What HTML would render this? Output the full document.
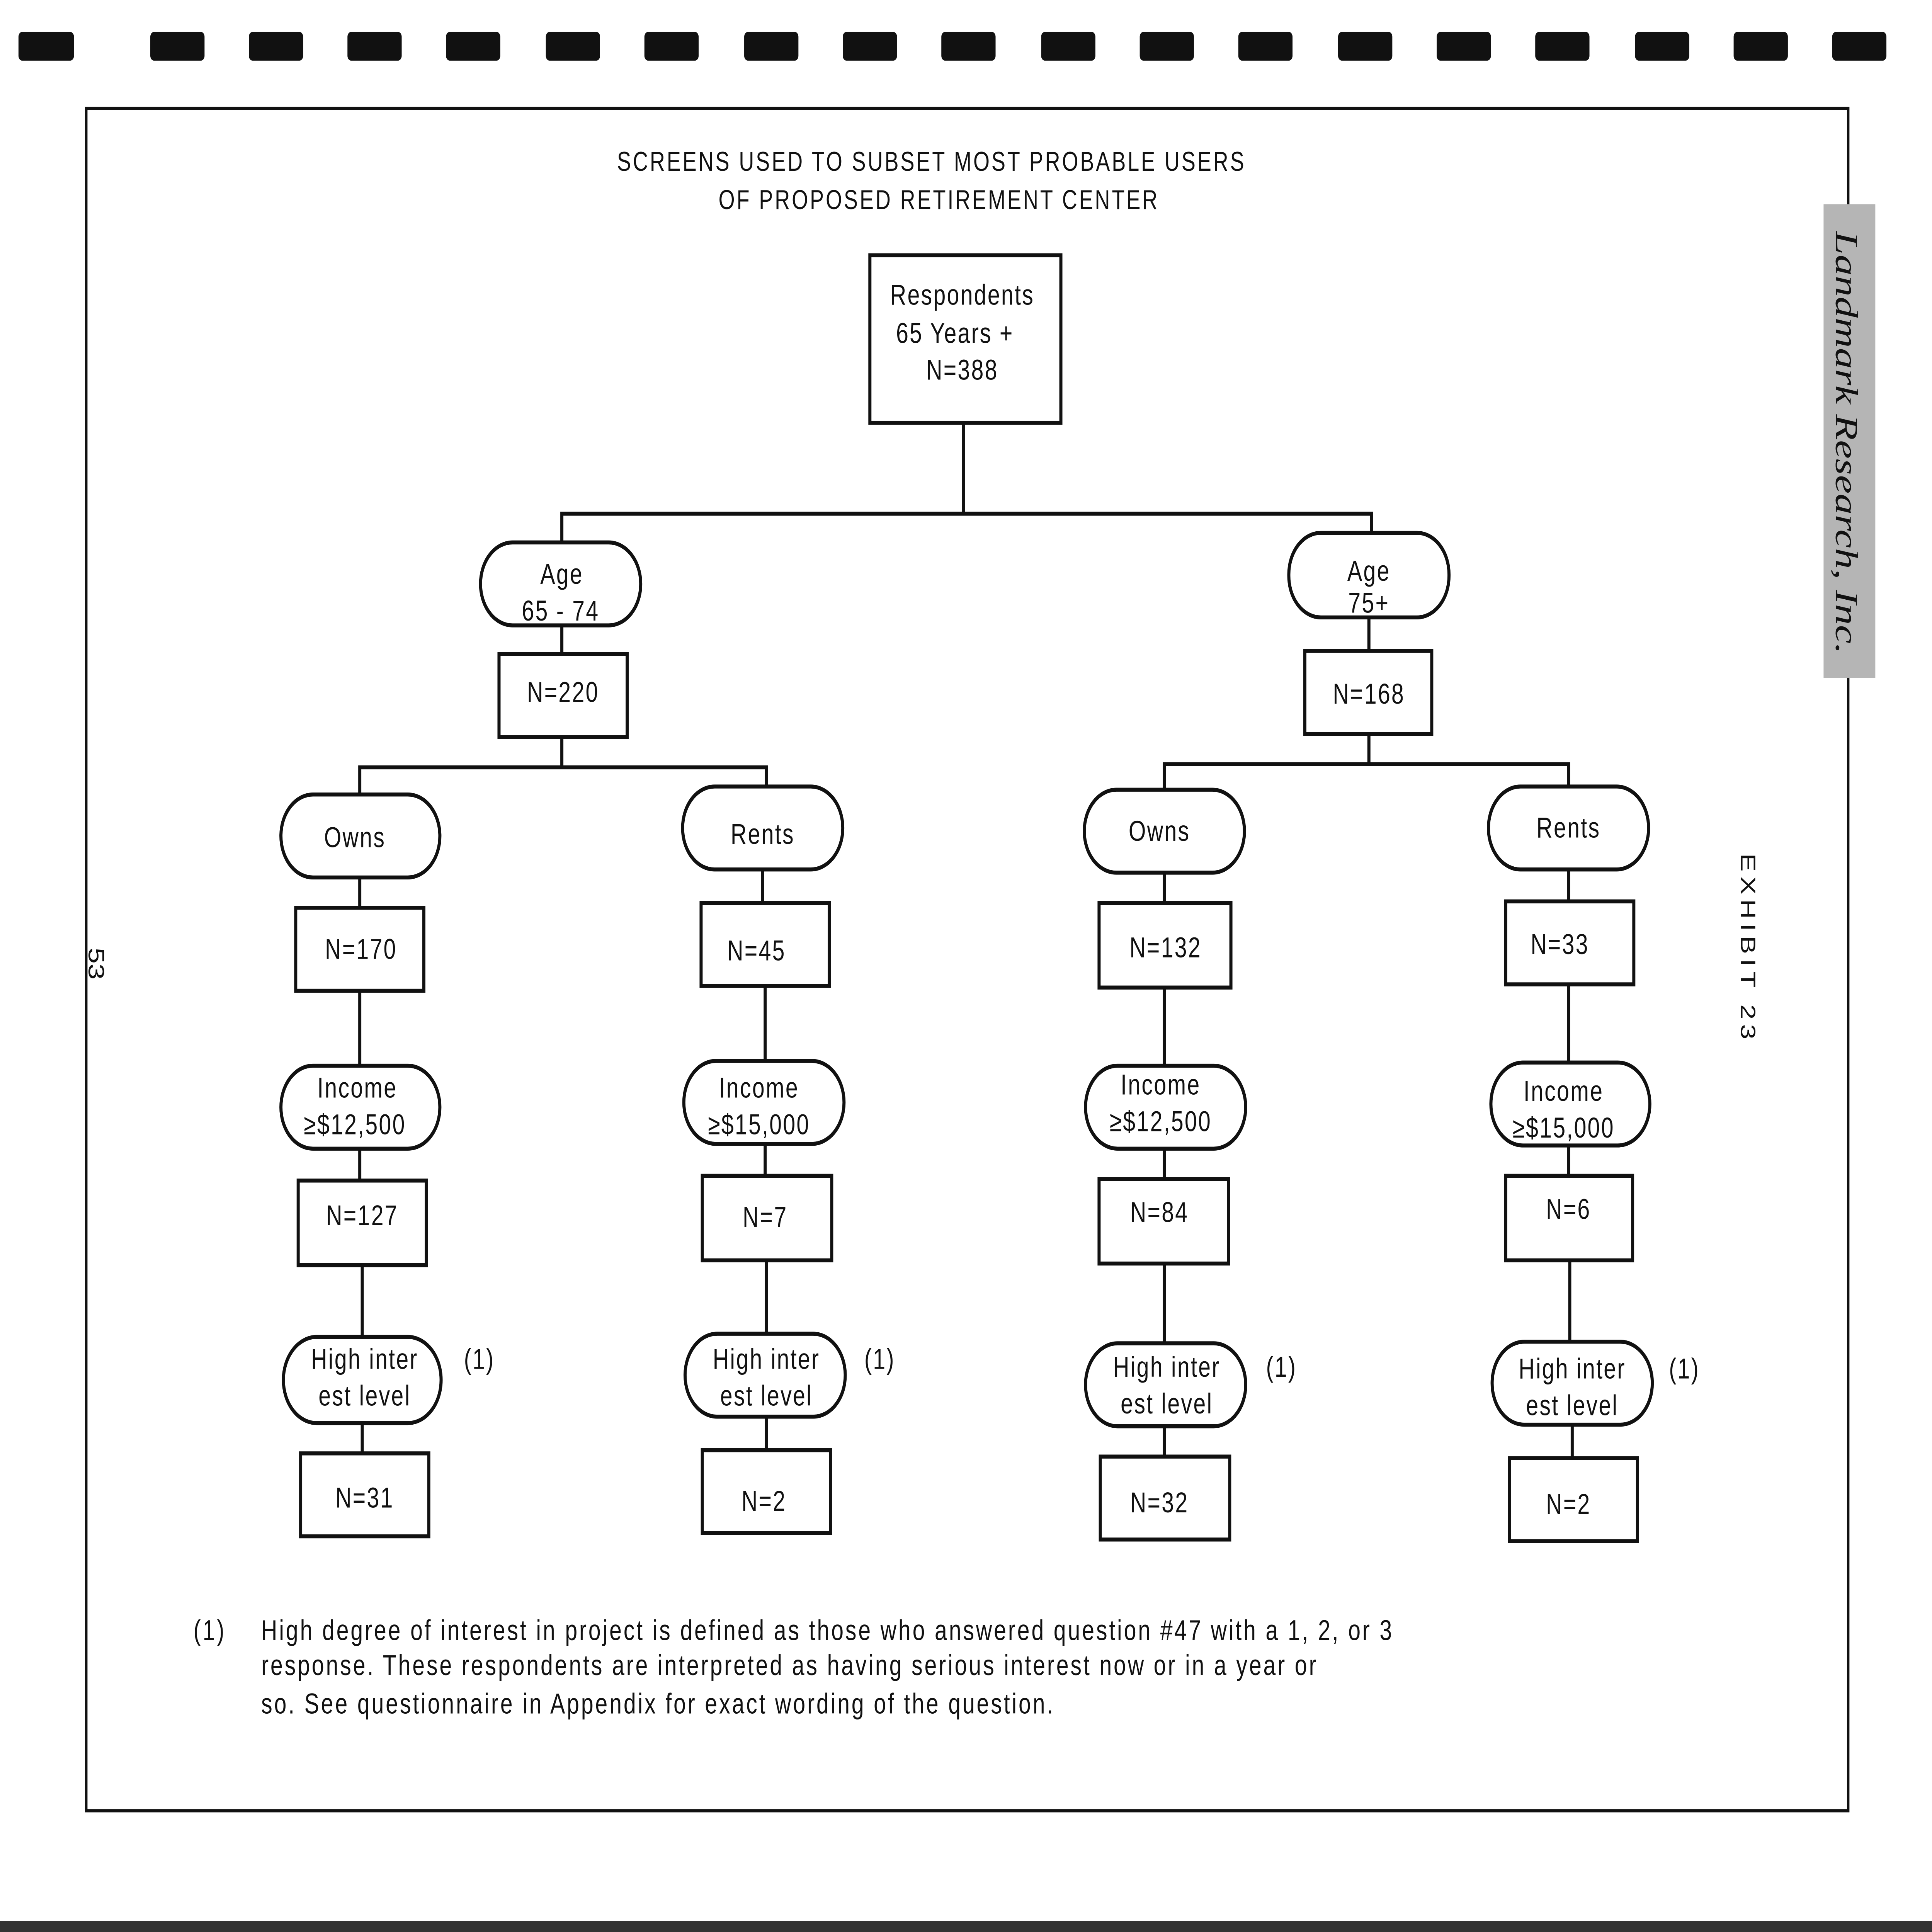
<!DOCTYPE html>
<html><head><meta charset="utf-8"><style>
html,body{margin:0;padding:0;background:#fff;width:100%;height:100%;overflow:hidden;}
svg{display:block;width:100vw;height:100vh;}
text{font-family:"Liberation Sans",sans-serif;fill:#111;}
</style></head><body>
<svg viewBox="0 0 1568 1211" preserveAspectRatio="none" xmlns="http://www.w3.org/2000/svg">
<rect width="1568" height="1211" fill="#fff"/>
<g fill="#111">
<rect x="15" y="20" width="45" height="18" rx="3"/><rect x="122" y="20" width="44" height="18" rx="3"/>
<rect x="202" y="20" width="44" height="18" rx="3"/><rect x="282" y="20" width="44" height="18" rx="3"/>
<rect x="362" y="20" width="44" height="18" rx="3"/><rect x="443" y="20" width="44" height="18" rx="3"/>
<rect x="523" y="20" width="44" height="18" rx="3"/><rect x="604" y="20" width="44" height="18" rx="3"/>
<rect x="684" y="20" width="44" height="18" rx="3"/><rect x="764" y="20" width="44" height="18" rx="3"/>
<rect x="845" y="20" width="44" height="18" rx="3"/><rect x="925" y="20" width="44" height="18" rx="3"/>
<rect x="1005" y="20" width="44" height="18" rx="3"/><rect x="1086" y="20" width="44" height="18" rx="3"/>
<rect x="1166" y="20" width="44" height="18" rx="3"/><rect x="1246" y="20" width="44" height="18" rx="3"/>
<rect x="1327" y="20" width="44" height="18" rx="3"/><rect x="1407" y="20" width="44" height="18" rx="3"/>
<rect x="1487" y="20" width="44" height="18" rx="3"/>
<rect x="0" y="1204" width="1568" height="7" fill="#333"/>
</g>
<g fill="none" stroke="#111" stroke-width="2">
<path d="M1500 128 V68 H70 V1135 H1500 V425"/>
</g>
<rect x="1480" y="128" width="42" height="297" fill="#b5b5b5"/>
<text transform="translate(1490,145) rotate(90)" font-style="italic" font-size="26" textLength="265" lengthAdjust="spacingAndGlyphs" style="font-family:'Liberation Serif',serif">Landmark Research, Inc.</text>
<text transform="translate(72,594) rotate(90)" font-size="18">53</text>
<text transform="translate(1413,535) rotate(90)" font-size="17" letter-spacing="3">EXHIBIT 23</text>
<text x="756" y="107" font-size="17" text-anchor="middle" letter-spacing="1.5">SCREENS USED TO SUBSET MOST PROBABLE USERS</text>
<text x="762" y="131" font-size="17" text-anchor="middle" letter-spacing="1.5">OF PROPOSED RETIREMENT CENTER</text>
<g fill="none" stroke="#111" stroke-width="2.5">
<path d="M782 265 V322 M456 340 V322 H1113 V334"/>
<path d="M456 392 V410 M1111 387 V408"/>
<path d="M456 462 V481 M292 498 V481 H622 V493 M1111 460 V479 M945 495 V479 H1273 V493"/>
<path d="M292 550 V569 M619 545 V566 M945 547 V566 M1273 545 V565"/>
<path d="M292 621 V668 M621 618 V665 M945 619 V668 M1273 617 V666"/>
<path d="M292 720 V740 M621 717 V737 M945 720 V739 M1273 718 V737"/>
<path d="M294 793 V838 M622 790 V836 M945 792 V842 M1274 790 V841"/>
<path d="M294 892 V911 M622 888 V909 M945 894 V913 M1276 893 V914"/>
<rect x="706" y="160" width="155" height="105"/>
<rect x="390" y="340" width="130" height="52" rx="26"/><rect x="1046" y="334" width="130" height="53" rx="26"/>
<rect x="405" y="410" width="104" height="52"/><rect x="1059" y="408" width="103" height="52"/>
<rect x="228" y="498" width="129" height="52" rx="26"/><rect x="554" y="493" width="130" height="52" rx="26"/>
<rect x="880" y="495" width="130" height="52" rx="26"/><rect x="1208" y="493" width="130" height="52" rx="26"/>
<rect x="240" y="569" width="104" height="52"/><rect x="569" y="566" width="104" height="52"/>
<rect x="892" y="566" width="107" height="53"/><rect x="1222" y="565" width="104" height="52"/>
<rect x="228" y="668" width="129" height="52" rx="26"/><rect x="555" y="665" width="130" height="52" rx="26"/>
<rect x="881" y="668" width="130" height="52" rx="26"/><rect x="1210" y="666" width="129" height="52" rx="26"/>
<rect x="242" y="740" width="104" height="53"/><rect x="570" y="737" width="105" height="53"/>
<rect x="892" y="739" width="105" height="53"/><rect x="1222" y="737" width="103" height="53"/>
<rect x="230" y="838" width="128" height="54" rx="27"/><rect x="556" y="836" width="130" height="52" rx="26"/>
<rect x="881" y="842" width="130" height="52" rx="26"/><rect x="1211" y="841" width="130" height="52" rx="26"/>
<rect x="244" y="911" width="104" height="52"/><rect x="570" y="909" width="104" height="52"/>
<rect x="893" y="913" width="105" height="52"/><rect x="1225" y="914" width="104" height="52"/>
</g>
<g font-size="18" text-anchor="middle" letter-spacing="1">
<text x="781" y="191">Respondents</text><text x="775" y="215">65 Years +</text><text x="781" y="238">N=388</text>
<text x="456" y="366">Age</text><text x="455" y="389">65 - 74</text>
<text x="1111" y="364">Age</text><text x="1111" y="384">75+</text>
<text x="457" y="440">N=220</text><text x="1111" y="441">N=168</text>
<text x="288" y="531">Owns</text><text x="619" y="529">Rents</text><text x="941" y="527">Owns</text><text x="1273" y="525">Rents</text>
<text x="293" y="601">N=170</text><text x="614" y="602">N=45</text><text x="946" y="600">N=132</text><text x="1266" y="598">N=33</text>
<text x="290" y="688">Income</text><text x="288" y="711">≥$12,500</text>
<text x="616" y="688">Income</text><text x="616" y="711">≥$15,000</text>
<text x="942" y="686">Income</text><text x="942" y="709">≥$12,500</text>
<text x="1269" y="690">Income</text><text x="1269" y="713">≥$15,000</text>
<text x="294" y="768">N=127</text><text x="621" y="769">N=7</text><text x="941" y="766">N=84</text><text x="1273" y="764">N=6</text>
<text x="296" y="858">High inter</text><text x="296" y="881">est level</text>
<text x="622" y="858">High inter</text><text x="622" y="881">est level</text>
<text x="947" y="863">High inter</text><text x="947" y="886">est level</text>
<text x="1276" y="864">High inter</text><text x="1276" y="887">est level</text>
<text x="389" y="858">(1)</text><text x="714" y="858">(1)</text><text x="1040" y="863">(1)</text><text x="1367" y="864">(1)</text>
<text x="296" y="945">N=31</text><text x="620" y="947">N=2</text><text x="941" y="948">N=32</text><text x="1273" y="949">N=2</text>
</g>
<g font-size="18" letter-spacing="1.5">
<text x="157" y="1028">(1)</text>
<text x="212" y="1028">High degree of interest in project is defined as those who answered question #47 with a  1, 2, or 3</text>
<text x="212" y="1050">response. These respondents are interpreted as having serious interest now or in a year or</text>
<text x="212" y="1074">so.  See questionnaire in Appendix for exact wording of the question.</text>
</g>
</svg>
</body></html>
